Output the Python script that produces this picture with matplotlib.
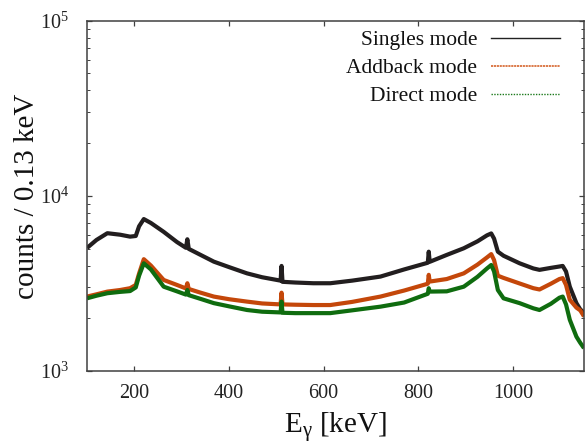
import matplotlib
matplotlib.use("Agg")
import matplotlib.pyplot as plt
from matplotlib.lines import Line2D
from matplotlib.ticker import LogLocator, FixedLocator, NullLocator, LogFormatterSciNotation

plt.rcParams['font.family'] = ['Liberation Serif', 'DejaVu Serif']
plt.rcParams['mathtext.default'] = 'regular'

# ---- data (energy in keV, counts per 0.13 keV) ----
energy_kev = [100, 120, 143, 170, 191, 203, 210, 220, 235, 262, 290, 309, 312, 315,
              340, 368, 400, 438, 470, 509, 511, 513, 540, 578, 614, 660, 720, 770,
              820, 822, 824, 860, 896, 925, 945, 954, 960, 968, 980, 1014, 1043,
              1056, 1080, 1098, 1105, 1112, 1120, 1134, 1142, 1150]

singles = [5040, 5600, 6120, 6000, 5850, 5900, 6700, 7370, 7000, 6230, 5450, 5050,
           5650, 4980, 4600, 4210, 3920, 3610, 3430, 3280, 3980, 3230, 3200, 3170,
           3170, 3280, 3460, 3800, 4150, 4800, 4200, 4600, 5020, 5500, 5950, 6100,
           5700, 4800, 4550, 4120, 3850, 3780, 3880, 3950, 3980, 3700, 3030, 2440,
           2250, 2150]

addback = [2660, 2740, 2840, 2900, 2970, 3100, 3600, 4350, 4000, 3310, 3100, 2960,
           3170, 2940, 2800, 2660, 2570, 2490, 2430, 2400, 2800, 2400, 2390, 2380,
           2380, 2480, 2660, 2880, 3150, 3540, 3240, 3350, 3610, 4050, 4450, 4650,
           4300, 3500, 3400, 3160, 2970, 2920, 3150, 3350, 3390, 3100, 2550, 2300,
           2220, 2050]

direct = [2600, 2690, 2780, 2830, 2860, 3000, 3500, 4120, 3800, 3030, 2850, 2730,
          2900, 2710, 2580, 2440, 2340, 2230, 2180, 2160, 2490, 2150, 2140, 2140,
          2140, 2220, 2330, 2460, 2760, 2970, 2840, 2850, 3030, 3450, 3850, 4030,
          3700, 2900, 2600, 2440, 2280, 2230, 2420, 2620, 2660, 2400, 1960, 1570,
          1450, 1350]

series_labels = ["Singles mode", "Addback mode", "Direct mode"]
x_ticks = [200, 400, 600, 800, 1000]

# ---- figure ----
fig = plt.figure(figsize=(5.85, 4.44), dpi=100)
ax = fig.add_axes([87/585, 1 - 371/444, (584 - 87)/585, (371 - 20.7)/444])

c_black = '#221e1f'
c_orange = '#c4470a'
c_green = '#0f6c0f'

for ys, c in ((singles, c_black), (addback, c_orange), (direct, c_green)):
    ax.plot(energy_kev, ys, color=c, lw=3.0, solid_joinstyle='round',
            solid_capstyle='butt')

ax.set_yscale('log')
ax.set_xlim(100, 1150)
ax.set_ylim(1e3, 1e5)

ax.xaxis.set_major_locator(FixedLocator(x_ticks))
ax.xaxis.set_minor_locator(NullLocator())
ax.yaxis.set_major_locator(LogLocator(base=10))
ax.yaxis.set_minor_locator(LogLocator(base=10, subs=range(2, 10)))
ax.yaxis.set_major_formatter(LogFormatterSciNotation())

ax.tick_params(axis='both', which='both', direction='in', top=True, right=True,
               colors='#404040', labelcolor='#222222')
ax.tick_params(axis='both', which='major', length=3.5, width=0.9, labelsize=14.5)
ax.tick_params(axis='y', which='major', pad=13)
ax.tick_params(axis='x', which='major', pad=9)
ax.tick_params(axis='y', which='minor', length=2, width=0.7)
for sp in ax.spines.values():
    sp.set_color('#404040')
    sp.set_linewidth(1.1)

ax.set_xlabel('E$_{γ}$ [keV]', fontsize=21, color='#111111')
ax.set_ylabel('counts / 0.13 keV', fontsize=21, color='#111111')
ax.xaxis.set_label_coords(0.5, -0.112)
ax.yaxis.set_label_coords(-0.094, 0.5)

handles = [
    Line2D([], [], color='#222222', lw=1.0),
    Line2D([], [], color='#d9703c', lw=1.3, linestyle=(0, (1.2, 0.4))),
    Line2D([], [], color='#1c7a1c', lw=1.0, linestyle=(0, (1, 1))),
]
leg = ax.legend(handles, series_labels, loc='upper right', frameon=False,
                markerfirst=False, fontsize=15.5, handlelength=3.2,
                handletextpad=0.65, labelspacing=0.37, borderpad=0,
                borderaxespad=0,
                bbox_to_anchor=(560/585, 1 - 30/444), bbox_transform=fig.transFigure)
for t in leg.get_texts():
    t.set_color('#111111')

fig.savefig('out.png', dpi=100)
